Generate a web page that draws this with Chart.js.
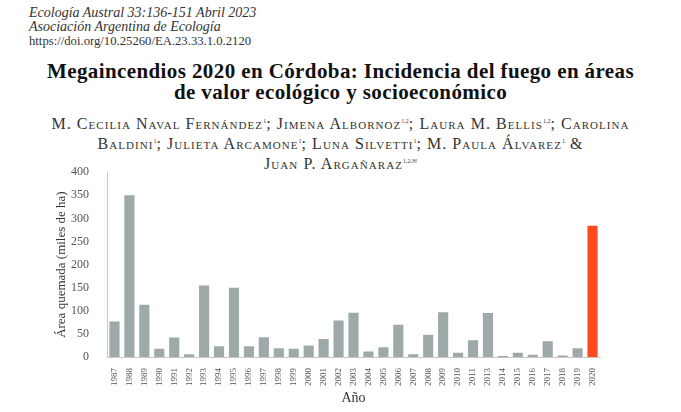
<!DOCTYPE html>
<html>
<head>
<meta charset="utf-8">
<script src="https://cdn.jsdelivr.net/npm/chart.js@4"></script>
<style>
  body { margin: 0; background: #fff; }
  #page { position: relative; width: 681px; height: 412px; overflow: hidden; background: #fff; }
  #journal { position: absolute; left: 29px; top: 6px; font-family: 'Liberation Serif', serif; font-size: 14px; line-height: 14px; color: #333; }
  #journal i { display: block; }
  #journal span { font-size: 12.7px; }
  #title { position: absolute; left: 0; width: 681px; top: 61px; text-align: center; font-family: 'Liberation Serif', serif; font-weight: bold; font-size: 21px; line-height: 21px; letter-spacing: 0.4px; color: #111; }
  #authors { position: absolute; left: 0; width: 681px; top: 113px; text-align: center; font-family: 'Liberation Serif', serif; font-variant: small-caps; font-size: 16px; line-height: 16.5px; letter-spacing: 1.05px; color: #333; }
  #authors sup { font-size: 6px; font-variant: normal; letter-spacing: 0; }
  #wrap { position: absolute; left: 0; top: 155px; width: 681px; height: 257px; }
</style>
</head>
<body>
<div id="page">
  <div id="journal">
    <i>Ecología Austral 33:136-151 Abril 2023</i>
    <i>Asociación Argentina de Ecología</i>
    <span>https://doi.org/10.25260/EA.23.33.1.0.2120</span>
  </div>
  <div id="title">Megaincendios 2020 en Córdoba: Incidencia del fuego en áreas<br>de valor ecológico y socioeconómico</div>
  <div id="authors">
    M. Cecilia Naval Fernández<sup>1</sup>; Jimena Albornoz<sup>1,2</sup>; Laura M. Bellis<sup>1,2</sup>; Carolina<br>
    Baldini<sup>1</sup>; Julieta Arcamone<sup>1</sup>; Luna Silvetti<sup>1</sup>; M. Paula Álvarez<sup>1</sup> &amp;<br>
    Juan P. Argañaraz<sup>1,2,✉</sup>
  </div>
  <div id="wrap"><canvas id="chart" width="681" height="257"></canvas></div>
</div>
<script>
// años (falta 2012 en el original)
const years = ['1987','1988','1989','1990','1991','1992','1993','1994','1995','1996',
  '1997','1998','1999','2000','2001','2002','2003','2004','2005','2006','2007','2008',
  '2009','2010','2011','2013','2014','2015','2016','2017','2018','2019','2020'];
// área quemada (miles de ha)
const burned = [77, 350, 113, 18, 42, 6, 155, 23, 150, 23,
  43, 19, 18, 25, 39, 79, 96, 12, 21, 70, 6, 48,
  97, 9, 36, 95, 2, 9, 5, 34, 3, 19, 284];
const yTicks = [0, 50, 100, 150, 200, 250, 300, 350, 400];

const grey = '#9eaaaa';
const red = '#fd4b1f';
const barColors = years.map(y => y === '2020' ? red : grey);

const serif = 'Liberation Serif';

new Chart(document.getElementById('chart'), {
  type: 'bar',
  data: {
    labels: years,
    datasets: [{
      data: burned,
      backgroundColor: barColors,
      borderWidth: 0,
      barPercentage: 0.68,
      categoryPercentage: 1
    }]
  },
  options: {
    responsive: false,
    animation: false,
    events: [],
    layout: { padding: { top: 4, right: 81, left: 50, bottom: 0 } },
    plugins: { legend: { display: false }, tooltip: { enabled: false } },
    scales: {
      y: {
        min: 0, max: 400,
        afterBuildTicks: (s) => { s.ticks = yTicks.map(v => ({ value: v })); },
        afterFit: (s) => { s.width = 57; },
        grid: { display: false },
        border: { display: true, color: '#c8c8c8', width: 1 },
        ticks: { padding: 10, color: '#555', font: { family: serif, size: 12 } },
        title: { display: true, text: 'Área quemada (miles de ha)', color: '#333',
          font: { family: serif, size: 13 }, padding: { top: 4, bottom: 0 } }
      },
      x: {
        afterFit: (s) => { s.height = 55; },
        grid: { display: false },
        border: { display: true, color: '#c8c8c8', width: 1 },
        ticks: { autoSkip: false, minRotation: 90, maxRotation: 90, padding: 3,
          color: '#555', font: { family: serif, size: 9 } },
        title: { display: true, text: 'Año', color: '#333',
          font: { family: serif, size: 14 }, padding: { top: 0, bottom: 5 } }
      }
    }
  }
});
</script>
</body>
</html>
